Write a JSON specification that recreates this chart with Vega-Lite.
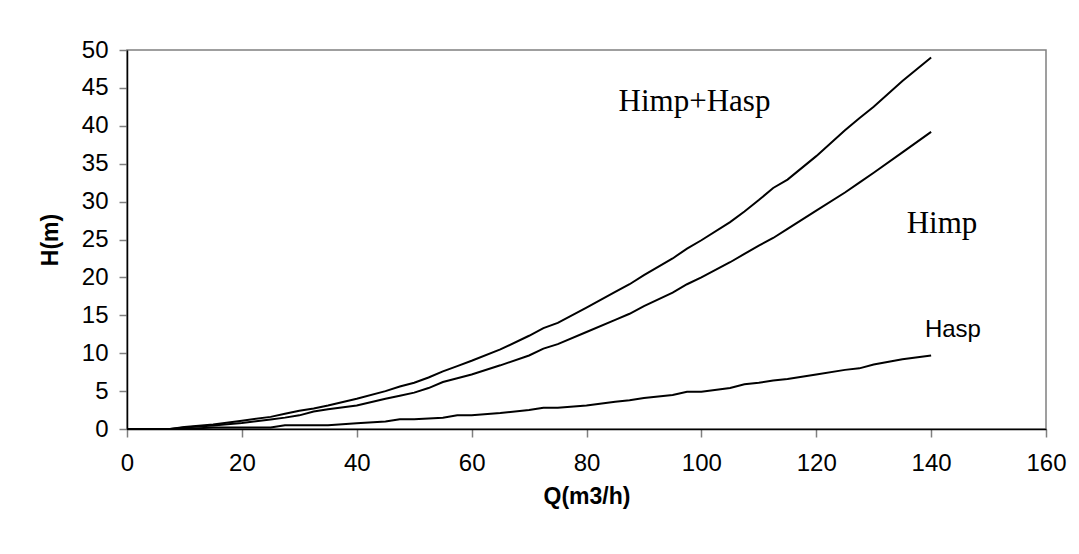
{
  "$schema": "https://vega.github.io/schema/vega-lite/v6.json",
  "width": 919,
  "height": 379,
  "autosize": "none",
  "padding": {"left": 127, "top": 50, "right": 33, "bottom": 125},
  "background": "white",
  "config": {
    "view": {"stroke": "#808080", "strokeWidth": 1.5},
    "font": "Liberation Sans"
  },
  "datasets": {
    "curves": [
      {"Q": 0, "H": 0, "serie": "Himp+Hasp"},
      {"Q": 5, "H": 0, "serie": "Himp+Hasp"},
      {"Q": 7.5, "H": 0, "serie": "Himp+Hasp"},
      {"Q": 10, "H": 0.25, "serie": "Himp+Hasp"},
      {"Q": 15, "H": 0.6, "serie": "Himp+Hasp"},
      {"Q": 20, "H": 1.1, "serie": "Himp+Hasp"},
      {"Q": 25, "H": 1.6, "serie": "Himp+Hasp"},
      {"Q": 27.5, "H": 2.0, "serie": "Himp+Hasp"},
      {"Q": 30, "H": 2.4, "serie": "Himp+Hasp"},
      {"Q": 32.5, "H": 2.7, "serie": "Himp+Hasp"},
      {"Q": 35, "H": 3.1, "serie": "Himp+Hasp"},
      {"Q": 40, "H": 4.0, "serie": "Himp+Hasp"},
      {"Q": 45, "H": 5.0, "serie": "Himp+Hasp"},
      {"Q": 47.5, "H": 5.6, "serie": "Himp+Hasp"},
      {"Q": 50, "H": 6.1, "serie": "Himp+Hasp"},
      {"Q": 52.5, "H": 6.8, "serie": "Himp+Hasp"},
      {"Q": 55, "H": 7.6, "serie": "Himp+Hasp"},
      {"Q": 57.5, "H": 8.3, "serie": "Himp+Hasp"},
      {"Q": 60, "H": 9.0, "serie": "Himp+Hasp"},
      {"Q": 65, "H": 10.5, "serie": "Himp+Hasp"},
      {"Q": 70, "H": 12.3, "serie": "Himp+Hasp"},
      {"Q": 72.5, "H": 13.3, "serie": "Himp+Hasp"},
      {"Q": 75, "H": 14.0, "serie": "Himp+Hasp"},
      {"Q": 80, "H": 16.0, "serie": "Himp+Hasp"},
      {"Q": 85, "H": 18.1, "serie": "Himp+Hasp"},
      {"Q": 87.5, "H": 19.1, "serie": "Himp+Hasp"},
      {"Q": 90, "H": 20.3, "serie": "Himp+Hasp"},
      {"Q": 95, "H": 22.5, "serie": "Himp+Hasp"},
      {"Q": 97.5, "H": 23.8, "serie": "Himp+Hasp"},
      {"Q": 100, "H": 24.9, "serie": "Himp+Hasp"},
      {"Q": 105, "H": 27.3, "serie": "Himp+Hasp"},
      {"Q": 107.5, "H": 28.7, "serie": "Himp+Hasp"},
      {"Q": 110, "H": 30.2, "serie": "Himp+Hasp"},
      {"Q": 112.5, "H": 31.8, "serie": "Himp+Hasp"},
      {"Q": 115, "H": 32.9, "serie": "Himp+Hasp"},
      {"Q": 120, "H": 36.0, "serie": "Himp+Hasp"},
      {"Q": 125, "H": 39.4, "serie": "Himp+Hasp"},
      {"Q": 127.5, "H": 41.0, "serie": "Himp+Hasp"},
      {"Q": 130, "H": 42.5, "serie": "Himp+Hasp"},
      {"Q": 135, "H": 45.9, "serie": "Himp+Hasp"},
      {"Q": 140, "H": 49.0, "serie": "Himp+Hasp"},
      {"Q": 0, "H": 0, "serie": "Himp"},
      {"Q": 5, "H": 0, "serie": "Himp"},
      {"Q": 7.5, "H": 0, "serie": "Himp"},
      {"Q": 10, "H": 0.2, "serie": "Himp"},
      {"Q": 15, "H": 0.45, "serie": "Himp"},
      {"Q": 20, "H": 0.8, "serie": "Himp"},
      {"Q": 25, "H": 1.25, "serie": "Himp"},
      {"Q": 27.5, "H": 1.5, "serie": "Himp"},
      {"Q": 30, "H": 1.8, "serie": "Himp"},
      {"Q": 32.5, "H": 2.3, "serie": "Himp"},
      {"Q": 35, "H": 2.6, "serie": "Himp"},
      {"Q": 40, "H": 3.1, "serie": "Himp"},
      {"Q": 45, "H": 4.0, "serie": "Himp"},
      {"Q": 47.5, "H": 4.4, "serie": "Himp"},
      {"Q": 50, "H": 4.8, "serie": "Himp"},
      {"Q": 52.5, "H": 5.4, "serie": "Himp"},
      {"Q": 55, "H": 6.2, "serie": "Himp"},
      {"Q": 57.5, "H": 6.7, "serie": "Himp"},
      {"Q": 60, "H": 7.2, "serie": "Himp"},
      {"Q": 65, "H": 8.4, "serie": "Himp"},
      {"Q": 70, "H": 9.7, "serie": "Himp"},
      {"Q": 72.5, "H": 10.6, "serie": "Himp"},
      {"Q": 75, "H": 11.2, "serie": "Himp"},
      {"Q": 80, "H": 12.8, "serie": "Himp"},
      {"Q": 85, "H": 14.4, "serie": "Himp"},
      {"Q": 87.5, "H": 15.2, "serie": "Himp"},
      {"Q": 90, "H": 16.2, "serie": "Himp"},
      {"Q": 95, "H": 18.0, "serie": "Himp"},
      {"Q": 97.5, "H": 19.1, "serie": "Himp"},
      {"Q": 100, "H": 20.0, "serie": "Himp"},
      {"Q": 105, "H": 22.0, "serie": "Himp"},
      {"Q": 107.5, "H": 23.1, "serie": "Himp"},
      {"Q": 110, "H": 24.2, "serie": "Himp"},
      {"Q": 112.5, "H": 25.2, "serie": "Himp"},
      {"Q": 115, "H": 26.4, "serie": "Himp"},
      {"Q": 120, "H": 28.8, "serie": "Himp"},
      {"Q": 125, "H": 31.2, "serie": "Himp"},
      {"Q": 127.5, "H": 32.5, "serie": "Himp"},
      {"Q": 130, "H": 33.8, "serie": "Himp"},
      {"Q": 135, "H": 36.5, "serie": "Himp"},
      {"Q": 140, "H": 39.2, "serie": "Himp"},
      {"Q": 0, "H": 0, "serie": "Hasp"},
      {"Q": 5, "H": 0, "serie": "Hasp"},
      {"Q": 10, "H": 0, "serie": "Hasp"},
      {"Q": 15, "H": 0.2, "serie": "Hasp"},
      {"Q": 20, "H": 0.2, "serie": "Hasp"},
      {"Q": 25, "H": 0.2, "serie": "Hasp"},
      {"Q": 27.5, "H": 0.5, "serie": "Hasp"},
      {"Q": 30, "H": 0.5, "serie": "Hasp"},
      {"Q": 35, "H": 0.5, "serie": "Hasp"},
      {"Q": 40, "H": 0.75, "serie": "Hasp"},
      {"Q": 45, "H": 1.0, "serie": "Hasp"},
      {"Q": 47.5, "H": 1.3, "serie": "Hasp"},
      {"Q": 50, "H": 1.3, "serie": "Hasp"},
      {"Q": 52.5, "H": 1.4, "serie": "Hasp"},
      {"Q": 55, "H": 1.5, "serie": "Hasp"},
      {"Q": 57.5, "H": 1.8, "serie": "Hasp"},
      {"Q": 60, "H": 1.8, "serie": "Hasp"},
      {"Q": 65, "H": 2.1, "serie": "Hasp"},
      {"Q": 70, "H": 2.5, "serie": "Hasp"},
      {"Q": 72.5, "H": 2.8, "serie": "Hasp"},
      {"Q": 75, "H": 2.8, "serie": "Hasp"},
      {"Q": 80, "H": 3.1, "serie": "Hasp"},
      {"Q": 85, "H": 3.6, "serie": "Hasp"},
      {"Q": 87.5, "H": 3.8, "serie": "Hasp"},
      {"Q": 90, "H": 4.1, "serie": "Hasp"},
      {"Q": 95, "H": 4.5, "serie": "Hasp"},
      {"Q": 97.5, "H": 4.9, "serie": "Hasp"},
      {"Q": 100, "H": 4.9, "serie": "Hasp"},
      {"Q": 105, "H": 5.4, "serie": "Hasp"},
      {"Q": 107.5, "H": 5.9, "serie": "Hasp"},
      {"Q": 110, "H": 6.1, "serie": "Hasp"},
      {"Q": 112.5, "H": 6.4, "serie": "Hasp"},
      {"Q": 115, "H": 6.6, "serie": "Hasp"},
      {"Q": 120, "H": 7.2, "serie": "Hasp"},
      {"Q": 125, "H": 7.8, "serie": "Hasp"},
      {"Q": 127.5, "H": 8.0, "serie": "Hasp"},
      {"Q": 130, "H": 8.5, "serie": "Hasp"},
      {"Q": 135, "H": 9.2, "serie": "Hasp"},
      {"Q": 140, "H": 9.7, "serie": "Hasp"}
    ],
    "serifLabels": [
      {"Q": 98.8, "H": 42.0, "label": "Himp+Hasp"},
      {"Q": 141.9, "H": 25.9, "label": "Himp"}
    ],
    "sansLabels": [
      {"Q": 143.8, "H": 12.1, "label": "Hasp"}
    ]
  },
  "encoding": {
    "x": {
      "field": "Q",
      "type": "quantitative",
      "scale": {"domain": [0, 160], "nice": false, "zero": false},
      "axis": {
        "values": [0, 20, 40, 60, 80, 100, 120, 140, 160],
        "grid": false,
        "domainColor": "black",
        "domainWidth": 1.5,
        "tickColor": "#808080",
        "tickWidth": 1.5,
        "tickSize": 8,
        "labelFontSize": 24,
        "labelColor": "black",
        "labelPadding": 14,
        "labelFlush": false,
        "title": "Q(m3/h)",
        "titleFontSize": 23,
        "titleFontWeight": "bold",
        "titleColor": "black",
        "titlePadding": 10
      }
    },
    "y": {
      "field": "H",
      "type": "quantitative",
      "scale": {"domain": [0, 50], "nice": false, "zero": false},
      "axis": {
        "values": [0, 5, 10, 15, 20, 25, 30, 35, 40, 45, 50],
        "grid": false,
        "domainColor": "black",
        "domainWidth": 1.5,
        "tickColor": "#808080",
        "tickWidth": 1.5,
        "tickSize": 8,
        "labelFontSize": 24,
        "labelColor": "black",
        "labelPadding": 11,
        "labelFlush": false,
        "title": "H(m)",
        "titleFontSize": 23,
        "titleFontWeight": "bold",
        "titleColor": "black",
        "titlePadding": 19
      }
    }
  },
  "layer": [
    {
      "data": {"name": "curves"},
      "mark": {"type": "line", "color": "black", "strokeWidth": 2, "clip": false},
      "encoding": {"detail": {"field": "serie", "type": "nominal"}}
    },
    {
      "data": {"name": "serifLabels"},
      "mark": {"type": "text", "font": "Liberation Serif", "fontSize": 31, "color": "black", "align": "center", "baseline": "alphabetic", "clip": false},
      "encoding": {"text": {"field": "label", "type": "nominal"}}
    },
    {
      "data": {"name": "sansLabels"},
      "mark": {"type": "text", "font": "Liberation Sans", "fontSize": 24, "color": "black", "align": "center", "baseline": "alphabetic", "clip": false},
      "encoding": {"text": {"field": "label", "type": "nominal"}}
    }
  ]
}
